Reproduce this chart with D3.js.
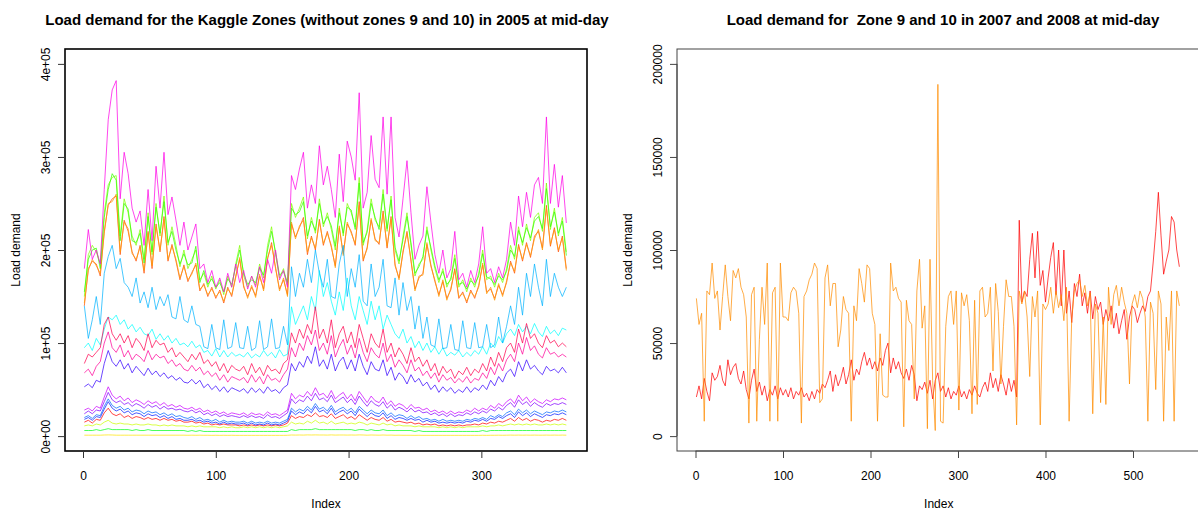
<!DOCTYPE html>
<html>
<head>
<meta charset="utf-8">
<script src="https://cdn.jsdelivr.net/npm/d3@7"></script>
<style>
  body { margin: 0; background: #fff; }
  svg { display: block; }
  text { font-family: "Liberation Sans", Arial, Helvetica, sans-serif; fill: #000; white-space: pre; }
</style>
</head>
<body>
<svg id="chart" width="1198" height="512"></svg>
<script>
// ---------------- DATA (loads in thousands) ----------------
// Left panel: Kaggle zones, 2005, mid-day load, sampled every 3rd day (day 1,4,...,364)
const leftDays = d3.range(1, 366, 3);
const zone1 = [15,17,14,18,17,25,30,24,22,24,20,22,19,21,20,18,20,18,19,17,
  19,17,18,16,17,15,15,16,14,15,13,14,12,13,12,13,12,12,12,11,
  12,11,12,11,12,11,12,11,12,11,12,14,22,19,21,20,23,21,25,21,
  22,20,24,19,21,23,19,21,18,23,20,17,20,18,17,20,16,18,15,16,
  15,14,15,13,14,12,13,12,13,11,12,11,12,11,12,11,12,12,13,12,
  14,13,15,14,16,15,17,19,16,20,17,19,16,18,17,15,17,16,18,17,
  19,17];
const zone2 = [140,180,188,185,172,220,248,255,258,195,232,220,198,188,205,175,220,180,228,198,
  236,188,206,188,168,184,166,176,184,156,164,150,160,148,157,143,160,150,172,190,
  160,150,160,151,172,158,190,208,180,158,168,152,228,214,224,235,195,215,200,233,
  205,220,203,183,224,196,228,220,205,252,188,203,232,212,206,242,202,236,183,170,
  197,220,188,158,170,175,206,184,166,152,166,148,157,180,148,155,143,157,148,162,
  184,155,158,148,162,152,165,188,175,206,188,208,192,215,220,202,248,204,224,198,
  215,180];
const zone3 = [143,178,190,183,175,218,250,252,260,198,230,223,196,190,203,178,218,183,225,200,
  233,190,204,190,170,182,168,174,186,158,162,152,158,150,155,145,158,152,170,192,
  162,148,162,149,174,156,192,205,182,156,170,150,230,212,226,232,198,213,202,230,
  207,218,205,181,226,194,230,218,207,248,190,201,234,210,208,239,204,233,185,168,
  199,218,190,156,172,173,208,182,168,150,168,146,159,178,150,153,145,155,150,160,
  186,153,160,146,164,150,167,186,177,204,190,206,194,212,222,200,245,206,222,200,
  213,178];
const zone4 = [1,1,1,1,1,1.2,1.3,1.2,1,1,1,1,1,1,1,1,1,1,1,1,
  1,1,1,1,1,1,0.9,1,0.9,1,0.9,0.9,0.8,0.9,0.8,0.9,0.8,0.9,0.8,0.8,
  0.8,0.8,0.8,0.8,0.8,0.8,0.8,0.8,0.8,0.8,0.8,0.9,1.2,1.1,1.2,1.1,1.3,1.2,1.3,1.2,
  1.2,1.1,1.3,1.1,1.2,1.2,1.1,1.2,1.1,1.3,1.2,1,1.2,1.1,1,1.2,1,1.1,0.9,1,
  0.9,0.9,0.9,0.8,0.9,0.8,0.8,0.8,0.8,0.8,0.8,0.8,0.8,0.8,0.8,0.8,0.8,0.8,0.8,0.8,
  0.9,0.8,0.9,0.9,1,0.9,1,1.1,1,1.1,1,1.1,1,1.1,1,1,1.1,1,1.1,1,
  1.1,1];
const zone5 = [11,12,11,13,12,15,17,14,13,14,13,13,12,13,12,12,13,12,12,11,
  12,11,12,11,11,11,10,11,10,11,10,10,10,10,9,10,9,10,9,9,
  10,9,10,9,10,9,10,9,10,9,10,11,15,13,14,13,16,14,17,14,
  15,13,16,13,14,15,13,14,13,15,14,12,14,13,12,14,12,13,11,12,
  11,11,11,10,11,10,10,10,10,9,10,9,10,9,10,9,10,10,10,10,
  11,10,11,11,12,11,12,13,12,13,12,13,12,13,12,12,13,12,13,12,
  13,12];
const zone6 = [150,195,205,198,185,240,270,278,280,215,255,240,215,205,222,190,240,195,250,215,
  258,205,225,205,182,200,180,190,200,168,175,160,172,158,168,152,172,160,185,205,
  172,160,172,162,185,170,205,225,195,170,180,162,250,235,245,257,212,235,218,255,
  225,240,222,200,245,215,250,240,225,278,205,222,255,232,225,265,220,258,200,185,
  215,240,205,172,185,190,225,200,180,165,180,160,170,195,160,168,155,170,160,175,
  200,168,172,160,175,165,180,205,190,225,205,228,210,235,240,220,272,222,245,215,
  235,198];
const zone7 = [155,190,200,202,180,235,265,282,275,210,250,244,210,208,218,186,236,198,246,218,
  252,208,220,200,185,196,184,186,204,165,178,163,169,160,165,155,169,163,182,200,
  175,163,168,165,181,173,200,220,198,173,177,165,245,238,241,252,215,231,221,250,
  228,236,226,204,240,218,246,243,222,272,208,219,250,235,222,260,223,254,203,188,
  211,236,208,175,182,193,221,203,183,168,177,163,168,191,163,165,158,167,163,172,
  196,171,169,163,172,168,177,200,193,221,208,224,213,231,236,223,266,225,241,218,
  231,194];
const zone8 = [6,6,6,7,6,7,8,7,7,7,7,7,6,7,6,6,7,6,6,6,
  6,6,6,6,6,6,5,6,5,6,5,5,5,5,5,5,5,5,5,5,
  5,5,5,5,5,5,5,5,5,5,5,5,7,6,7,7,7,7,8,7,
  7,7,7,7,7,7,7,7,6,7,7,6,7,6,6,7,6,6,6,6,
  6,6,6,5,6,5,5,5,5,5,5,5,5,5,5,5,5,5,5,5,
  6,5,6,6,6,6,6,6,6,6,6,6,6,6,6,6,6,6,6,6,
  6,6];
const zone11 = [95,100,92,105,98,115,128,125,130,120,125,115,120,112,117,110,108,115,104,110,
  103,108,100,105,98,100,96,102,95,98,90,92,86,94,85,92,85,90,86,88,
  85,90,84,88,85,92,86,90,84,93,86,88,139,120,130,140,125,150,135,178,
  150,165,145,130,155,135,170,140,125,150,135,120,145,125,140,115,130,120,110,105,
  115,100,107,95,102,92,100,90,96,88,95,86,90,87,92,85,90,86,92,88,
  96,88,100,95,107,100,110,115,108,120,112,118,110,121,112,107,118,110,114,108,
  116,114];
const zone12 = [140,105,125,150,120,175,193,205,180,191,165,160,150,170,143,155,138,160,136,150,
  140,152,128,126,150,125,122,140,120,118,96,94,120,95,93,125,94,96,122,95,
  94,118,92,95,124,93,96,126,94,95,118,98,182,150,175,160,190,165,200,175,
  160,190,150,148,185,205,150,180,160,195,145,140,185,150,160,190,140,138,170,130,
  165,135,150,115,140,105,128,98,96,126,94,95,120,93,92,124,95,94,122,95,
  96,120,95,98,128,100,118,140,120,160,130,175,150,185,160,140,190,150,175,160,
  150,160];
const zone13 = [20,22,19,23,22,32,40,33,30,32,28,30,26,28,27,24,27,25,26,23,
  25,22,24,21,22,20,19,21,18,20,17,18,16,18,15,17,15,16,15,15,
  16,14,16,14,15,14,16,14,15,14,16,18,30,26,29,27,32,28,35,29,
  31,27,33,26,29,31,27,30,25,32,28,24,28,25,24,28,22,25,21,23,
  22,19,22,19,21,18,19,17,18,16,18,16,17,16,17,16,18,17,19,18,
  20,18,22,20,23,21,25,27,23,29,25,28,24,27,25,23,26,25,27,26,
  28,26];
const zone14 = [18,20,17,21,20,29,37,30,27,29,25,27,23,25,24,21,24,22,23,20,
  22,19,21,18,19,17,17,18,16,17,15,16,14,15,13,15,13,14,13,13,
  14,12,14,12,13,12,14,12,13,12,14,16,27,23,26,24,29,25,32,26,
  28,24,30,23,26,28,24,27,22,29,25,21,25,22,21,25,19,22,18,20,
  19,17,19,17,18,15,17,15,16,14,15,14,15,14,15,14,16,15,17,16,
  18,16,19,18,21,19,22,24,20,26,22,25,21,24,22,20,23,22,24,23,
  25,23];
const zone15 = [53,56,52,60,58,78,92,80,75,82,72,78,68,75,70,65,73,66,70,64,
  68,62,65,60,63,58,57,61,56,60,52,56,50,54,48,53,47,52,50,48,
  51,46,52,47,51,46,53,48,50,46,52,55,78,70,80,74,86,78,96,75,
  82,72,88,70,80,85,72,82,70,88,75,66,80,72,70,82,65,74,60,68,
  64,56,66,58,62,54,58,50,55,47,53,48,52,46,50,47,53,47,52,49,
  55,50,60,54,64,58,68,72,64,80,70,82,72,76,70,66,75,70,72,68,
  74,68];
const zone16 = [24,27,24,28,27,37,47,39,36,38,34,36,32,35,33,30,34,31,33,29,
  32,29,30,28,29,27,26,28,25,27,23,25,22,24,21,23,21,22,21,20,
  22,20,22,20,21,19,23,20,21,19,22,25,40,35,39,37,43,38,46,39,
  41,37,44,36,39,42,36,40,34,43,37,32,38,34,32,37,30,34,28,31,
  29,26,30,26,28,25,26,23,25,22,24,21,24,21,23,22,25,23,26,24,
  27,25,29,27,31,28,33,36,31,39,34,37,32,36,33,31,35,33,35,34,
  36,34];
const zone17 = [28,30,27,32,30,42,53,44,40,43,38,41,36,39,37,34,38,35,37,33,
  36,32,34,31,33,30,29,31,28,30,26,28,25,27,24,26,23,25,24,23,
  25,22,25,23,24,22,26,23,24,22,25,28,46,40,44,42,48,43,52,44,
  46,41,49,40,44,47,40,45,38,48,42,36,43,38,36,42,34,38,32,35,
  33,29,34,30,31,28,30,26,28,25,27,24,27,24,26,25,28,26,30,27,
  30,28,33,30,35,32,37,40,35,44,38,42,36,40,37,35,39,37,40,39,
  41,39];
const zone18 = [180,222,190,200,185,265,340,372,382,255,305,282,245,230,242,205,265,210,290,245,
  305,238,257,232,205,230,200,214,228,180,185,165,178,160,170,155,175,160,185,165,
  178,158,172,160,182,165,190,175,200,168,178,160,280,265,287,305,245,270,250,312,
  270,290,265,235,303,252,317,300,275,369,245,262,323,276,267,343,260,343,235,214,
  255,296,240,190,205,215,268,230,195,175,200,170,180,220,168,175,160,178,165,185,
  225,175,180,165,182,170,190,230,205,258,225,262,235,270,278,250,343,250,292,246,
  280,229];
const zone19 = [68,72,65,75,80,100,112,95,90,98,85,92,82,88,85,80,92,82,88,84,
  86,78,82,75,78,72,70,76,70,74,66,70,64,68,60,66,58,64,62,60,
  63,57,66,58,64,56,66,60,62,58,66,72,95,85,100,92,108,98,114,92,
  100,88,108,85,96,104,88,98,84,105,90,80,95,88,84,100,80,88,74,82,
  76,68,82,70,74,65,70,62,68,58,66,60,63,57,62,58,64,57,62,60,
  68,62,74,66,78,70,82,88,80,100,88,106,92,97,88,84,95,88,90,85,
  88,85];
const zone20 = [78,88,85,90,95,120,128,110,103,110,100,108,95,105,100,92,110,95,103,98,
  100,90,95,85,90,85,80,88,82,90,78,82,75,80,70,78,68,76,72,70,
  75,66,78,68,74,65,76,70,72,67,78,82,111,100,115,105,120,110,139,105,
  115,100,125,95,110,118,100,112,95,120,105,90,110,100,95,115,90,100,85,95,
  88,78,95,80,85,75,82,70,78,65,75,68,72,62,70,66,74,65,72,68,
  78,70,85,75,90,80,95,100,90,115,100,121,105,110,100,95,108,100,103,96,
  100,96];
const leftSeries = [zone1, zone2, zone3, zone4, zone5, zone6, zone7, zone8,
  zone11, zone12, zone13, zone14, zone15, zone16, zone17, zone18, zone19, zone20];
const leftXTicks = [0, 100, 200, 300];
const leftYTicks = [0, 100, 200, 300, 400];
const leftYTickLabels = ["0e+00", "1e+05", "2e+05", "3e+05", "4e+05"];

// Right panel: zones 9 and 10, 2007-2008, sampled every 3rd index (1,4,...,553)
const rightIndex = d3.range(1, 556, 3);
const zone9 = [21,27,20,31,24,19,34,30,32,38,30,27,41,33,37,39,31,28,35,25,
  20,30,36,24,29,22,27,19,25,22,27,20,26,22,25,21,26,20,24,22,
  26,21,23,19,24,20,25,23,28,26,30,35,24,33,27,31,37,28,33,41,
  30,36,33,40,45,38,42,36,40,35,42,38,46,50,34,42,36,40,34,31,
  36,30,38,33,19,27,25,29,23,30,20,30,34,24,27,21,26,20,24,22,
  27,21,24,20,25,22,27,23,21,26,29,24,34,26,31,24,33,28,22,31,
  24,30,21,116,72,78,75,95,109,85,110,81,89,72,85,96,104,76,100,70,
  100,66,78,61,82,75,87,70,77,66,78,63,75,68,72,60,68,62,70,58,
  66,55,62,68,52,64,70,68,61,66,70,67,75,78,93,110,131,108,87,94,
  100,118,115,100,91];
const zone10 = [74,60,66,8,78,76,93,74,78,57,75,92,75,62,89,85,90,80,76,64,
  7,76,80,8,52,80,60,93,8,77,80,8,93,64,64,62,77,80,78,66,
  7,75,78,84,87,93,90,18,20,85,92,70,82,82,48,57,75,68,66,8,
  70,62,90,82,72,92,90,66,60,8,55,22,21,21,93,78,80,74,72,5,
  73,62,60,20,78,95,58,70,4,95,30,3,189,8,7,59,75,78,60,78,
  14,77,70,76,62,12,73,17,78,80,64,66,80,35,82,67,28,59,84,75,
  75,59,6,78,71,78,64,32,75,64,78,6,71,68,71,80,66,78,69,76,
  62,80,8,64,78,82,84,75,81,70,77,12,71,66,18,64,17,80,60,76,
  81,70,80,72,66,28,71,76,69,78,74,64,8,72,66,25,78,71,8,64,
  46,78,8,78,70];
const rightSeries = [zone9, zone10];
const rightXTicks = [0, 100, 200, 300, 400, 500];
const rightYTicks = [0, 50, 100, 150, 200];
const rightYTickLabels = ["0", "50000", "100000", "150000", "200000"];

// ---------------- STYLE ----------------
const leftColors = ["#FF0000","#FF4D00","#FF9900","#FFE500","#CCFF00","#80FF00","#33FF00","#00FF19",
  "#00FFFF","#00B3FF","#0066FF","#001AFF","#3300FF","#7F00FF","#CC00FF","#FF00E6","#FF0099","#FF004D"];
const rightColors = ["#FF0000", "#FF8C00"];

const svg = d3.select("#chart");

function panel(cfg) {
  const x = d3.scaleLinear().domain(cfg.xDomain).range([cfg.left, cfg.right]);
  const y = d3.scaleLinear().domain(cfg.yDomain).range([cfg.bottom, cfg.top]);
  const g = svg.append("g");

  const line = d3.line().x(d => x(d[0])).y(d => y(d[1]));
  cfg.series.forEach((vals, k) => {
    const pts = vals.map((v, i) => [cfg.index[i], v]).filter(p => p[0] !== undefined);
    g.append("path").datum(pts)
      .attr("fill", "none")
      .attr("stroke", cfg.colors[k])
      .attr("stroke-width", 1)
      .attr("stroke-opacity", 0.72)
      .attr("stroke-linejoin", "round")
      .attr("d", line);
  });

  // box
  g.append("rect")
    .attr("x", cfg.left).attr("y", cfg.top)
    .attr("width", cfg.right - cfg.left).attr("height", cfg.bottom - cfg.top)
    .attr("fill", "none").attr("stroke", cfg.boxColor).attr("stroke-width", cfg.boxWidth);

  // x axis
  const xa = d3.axisBottom(x).tickValues(cfg.xTicks).tickSize(7).tickPadding(13).tickFormat(d3.format("d"));
  const gx = g.append("g").attr("transform", `translate(0,${cfg.bottom})`).call(xa);
  gx.select(".domain").attr("stroke", cfg.axisColor)
    .attr("d", `M${x(cfg.xTicks[0])},0H${x(cfg.xTicks[cfg.xTicks.length - 1])}`);
  gx.selectAll(".tick line").attr("stroke", cfg.axisColor);
  gx.selectAll(".tick text").attr("font-size", 12).attr("fill", "#222")
    .attr("font-family", '"Liberation Sans", Arial, sans-serif');

  // y axis
  const ya = d3.axisLeft(y).tickValues(cfg.yTicks).tickSize(7)
    .tickFormat((d, i) => cfg.yTickLabels[i]);
  const gy = g.append("g").attr("transform", `translate(${cfg.left},0)`).call(ya);
  gy.select(".domain").attr("stroke", cfg.axisColor)
    .attr("d", `M0,${y(cfg.yTicks[0])}V${y(cfg.yTicks[cfg.yTicks.length - 1])}`);
  gy.selectAll(".tick line").attr("stroke", cfg.axisColor);
  gy.selectAll(".tick text")
    .attr("font-size", 12).attr("fill", "#222")
    .attr("font-family", '"Liberation Sans", Arial, sans-serif')
    .attr("x", null).attr("dy", null)
    .attr("text-anchor", "middle")
    .attr("transform", "translate(-15,0) rotate(-90)");

  // titles
  svg.append("text")
    .attr("x", cfg.titleX)
    .attr("y", 25)
    .attr("text-anchor", "middle")
    .attr("font-size", 15)
    .attr("font-weight", "bold")
    .text(cfg.title);

  svg.append("text")
    .attr("x", (cfg.left + cfg.right) / 2)
    .attr("y", 508)
    .attr("text-anchor", "middle")
    .attr("font-size", 12)
    .text("Index");

  svg.append("text")
    .attr("transform", `translate(${cfg.left - 45},${(cfg.top + cfg.bottom) / 2}) rotate(-90)`)
    .attr("text-anchor", "middle")
    .attr("font-size", 12)
    .text("Load demand");
}

panel({
  series: leftSeries, colors: leftColors, index: leftDays,
  xDomain: [1 - 0.04 * 364, 365 + 0.04 * 364], yDomain: [-16, 416],
  left: 65, right: 587, top: 49, bottom: 451,
  xTicks: leftXTicks, yTicks: leftYTicks, yTickLabels: leftYTickLabels,
  boxColor: "#000", boxWidth: 1.6, axisColor: "#333",
  titleX: 327,
  title: "Load demand for the Kaggle Zones (without zones 9 and 10) in 2005 at mid-day"
});

panel({
  series: rightSeries, colors: rightColors, index: rightIndex,
  xDomain: [1 - 0.04 * 554, 555 + 0.04 * 554], yDomain: [-8, 208],
  left: 677, right: 1200.5, top: 49, bottom: 451,
  xTicks: rightXTicks, yTicks: rightYTicks, yTickLabels: rightYTickLabels,
  boxColor: "#444", boxWidth: 1, axisColor: "#444",
  titleX: 943,
  title: "Load demand for  Zone 9 and 10 in 2007 and 2008 at mid-day"
});
</script>
</body>
</html>
